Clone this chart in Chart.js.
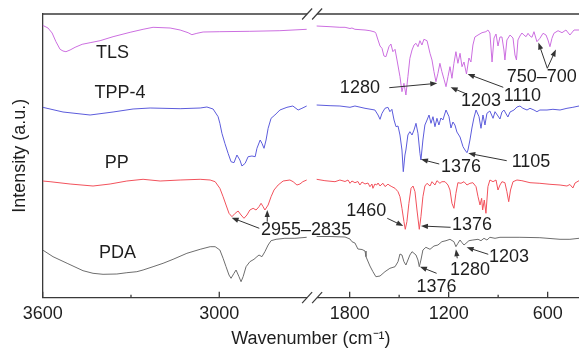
<!DOCTYPE html>
<html>
<head>
<meta charset="utf-8">
<script src="https://cdn.jsdelivr.net/npm/chart.js@4.4.1/dist/chart.umd.min.js"></script>
<style>
  body { margin: 0; background: #fff; }
  #wrap { width: 579px; height: 350px; position: relative; }
</style>
</head>
<body>
<div id="wrap"><canvas id="ftir"></canvas></div>
<script>
// FTIR spectra, [wavenumber (cm-1), intensity (a.u., stacked offsets)]
const tls = [
  [3600,274.7],[3582,272],[3568,267],[3555,258.3],[3541,250.7],[3531,249],[3521,248.3],[3507,250],[3490,252.7],[3466,255.7],
  [3439,257.3],[3405,259.3],[3361,263.3],[3303,267.7],[3259,270.7],[3225,272.7],[3167,272],[3133,270],[3106,267.3],[3093,265.3],
  [3076,266.7],[3055,268],[2998,268.3],[2896,268.7],[2794,269.3],[2703,270.7],
  [2000,274],[1919,273.3],[1859,272.7],[1828,272.7],[1798,271.5],[1786,272],[1768,270.7],[1707,270],[1677,269.3],[1647,268],
  [1641,266.7],[1628,260],[1616,254],[1604,251.7],[1592,244],[1580,243.3],[1562,253.3],[1550,256],[1538,248.3],[1525,250.7],
  [1513,240],[1495,223.3],[1483,208.3],[1471,216.7],[1459,205],[1447,223.3],[1435,241.7],[1422,250],[1410,255],[1398,256.7],
  [1386,253.3],[1374,259.3],[1362,255],[1350,260.7],[1331,259.3],[1313,246.7],[1301,240],[1289,228.3],[1277,218.3],[1265,226.7],
  [1253,236.7],[1241,228.3],[1228,220.7],[1216,213.3],[1204,223.3],[1192,233.3],[1180,221.7],[1168,236.7],[1156,248.3],[1144,236.7],
  [1131,246.7],[1119,233.3],[1107,238],[1092,226],[1077,242],[1065,238],[1053,255],[1041,263],[1022,265],[998,267.3],
  [974,268.3],[962,270],[950,267],[937,238],[925,262],[913,266],[901,254],[889,263],[877,263],[865,250],
  [859,240],[847,260],[828,265],[810,262],[798,245],[789,240],[780,260],[768,264],[756,267],[744,265],
  [731,263.3],[719,266.7],[707,264],[695,262.7],[683,268.3],[665,258.3],[647,261.7],[628,266.7],[610,265],[598,260],
  [586,253.3],[574,261.7],[562,266.7],[537,269.3],[513,267.3],[489,270],[465,265],[440,270],[410,270]
];
const tpp4 = [
  [3600,192.7],[3531,188],[3439,185],[3361,188],[3293,191],[3235,192],[3133,191.3],[3065,192],[3042,193],[3021,191],
  [3004,183.3],[2998,176.7],[2991,166.7],[2981,156.7],[2970,146.7],[2960,138.3],[2950,137.3],[2940,145],[2930,140],[2923,134],
  [2912,136.7],[2902,143.3],[2889,144],[2878,143.3],[2872,151.7],[2861,160],[2855,156.7],[2848,151.7],[2841,160],[2834,171.7],
  [2824,181.7],[2811,185],[2794,190],[2770,192.7],[2750,194],[2732,190],[2719,191.7],[2703,194],
  [2000,195],[1919,194.3],[1859,194],[1798,192.7],[1768,194],[1707,191.7],[1647,190],[1628,185],[1616,180.7],[1604,186.7],
  [1586,191.7],[1568,192.7],[1556,188.3],[1544,190.7],[1531,180],[1519,173.3],[1507,174],[1495,165],[1483,150],[1475,128.3],
  [1465,145],[1459,150],[1447,165],[1435,168.3],[1422,165],[1410,170],[1398,176.7],[1386,166.7],[1374,146.7],[1368,140],
  [1356,160],[1344,175],[1331,180],[1319,185],[1307,176.7],[1295,183.3],[1283,173.3],[1271,181.7],[1259,175],[1247,182],
  [1235,180],[1216,190],[1198,183.3],[1186,172],[1174,178],[1162,175],[1150,168],[1131,163],[1113,153.3],[1101,150],
  [1089,147.3],[1083,150],[1071,160],[1059,172],[1047,182],[1034,190],[1016,183.3],[1004,171.7],[992,185],[980,175],
  [968,186.7],[950,189],[931,181.7],[919,188.3],[901,184],[889,181],[877,188],[865,190],[841,183],[828,188],
  [804,190],[786,193],[768,194],[750,191.7],[725,190],[707,191.7],[683,190],[665,188.3],[647,190],[604,190],
  [568,190.7],[525,190],[483,191.7],[447,192.7],[410,194]
];
const pp = [
  [3600,119],[3575,118.3],[3507,116],[3429,114],[3371,116],[3314,119],[3259,120.7],[3201,119],[3133,120],[3065,120.7],
  [3031,120],[3014,118.3],[2998,111.7],[2987,103.3],[2977,95],[2967,86.7],[2957,83.3],[2946,86.7],[2936,89],[2926,85],
  [2916,81.7],[2906,85],[2896,90],[2885,91.7],[2875,90],[2865,93.3],[2858,96.7],[2851,93.3],[2845,90],[2834,95],
  [2824,103.3],[2814,110],[2800,115],[2783,119],[2760,120],[2749,118.3],[2736,115],[2726,116],[2716,118.3],[2703,120],
  [2000,120.7],[1950,119.3],[1889,118.3],[1859,120],[1828,118.5],[1810,120],[1798,116.7],[1786,119],[1768,117.3],[1750,118.5],
  [1738,115],[1725,118],[1707,116],[1689,117],[1677,113.3],[1665,116],[1659,111.7],[1647,116],[1636,115],[1628,117],
  [1616,114],[1604,116],[1598,116.7],[1586,113.5],[1580,114],[1568,116],[1562,115],[1544,113.3],[1525,111.7],[1507,108.3],
  [1495,103.3],[1483,91.7],[1471,78.3],[1463,70.7],[1453,78.3],[1441,96.7],[1428,111.7],[1416,114],[1404,108.3],[1392,90],
  [1378,70.7],[1368,83.3],[1356,103.3],[1344,114],[1331,116.7],[1313,114],[1301,118.3],[1283,115],[1271,119.3],[1253,116.7],
  [1241,118.3],[1222,118.3],[1204,115],[1192,110],[1180,96.7],[1168,91.7],[1156,106.7],[1144,117.3],[1125,116.7],[1107,118.3],
  [1089,115],[1071,116.7],[1053,117.3],[1034,113.3],[1022,103.3],[1010,95],[1000,101.7],[994,90],[984,100],[974,86.7],
  [962,113.3],[950,120],[931,118.3],[913,120],[901,110],[889,115],[877,118.3],[859,117.3],[847,108.3],[836,98.3],
  [825,110],[810,118.3],[786,120],[756,119.3],[707,117.3],[647,116.7],[586,115.7],[525,115],[483,114],[465,115.5],
  [447,112],[434,117],[410,119.3]
];
const pda = [
  [3600,50],[3565,43.3],[3517,36.7],[3463,29.3],[3429,26.7],[3395,25.7],[3348,26],[3314,27.3],[3280,28.3],[3259,30],
  [3225,33.3],[3191,36.7],[3157,40.7],[3110,46.7],[3065,50.7],[3031,53.3],[3014,53.3],[2998,50],[2987,41.7],[2977,33.3],
  [2967,25],[2960,21.7],[2950,26.7],[2943,30],[2933,23.3],[2926,18.3],[2919,23.3],[2909,33.3],[2896,38.3],[2882,40.7],
  [2872,43.3],[2865,45],[2855,43.3],[2845,48.3],[2834,55],[2824,59.3],[2807,60.7],[2777,61.7],[2743,61.7],[2703,62.7],
  [2000,63.5],[1919,63.5],[1828,63],[1798,61],[1786,58.3],[1768,57],[1750,51],[1725,50.5],[1707,49],[1701,43.3],
  [1677,34],[1659,28.3],[1641,23.3],[1616,24],[1586,28.3],[1556,31.7],[1525,33.3],[1507,38.3],[1495,46],[1483,45],
  [1471,38.3],[1459,35],[1447,40],[1435,45],[1422,48.3],[1410,46.7],[1398,45],[1386,40],[1378,33.3],[1368,40],
  [1356,50],[1338,52.7],[1313,50.7],[1289,54],[1265,55],[1241,58.3],[1216,59.3],[1192,60.7],[1168,58.3],[1156,53.3],
  [1144,56.7],[1131,60],[1119,57.3],[1107,55],[1095,56.7],[1077,59.3],[1053,60],[1022,60.7],[1004,59.3],[986,61.7],
  [968,60],[950,62.7],[919,61.7],[889,62.7],[768,62.7],[647,62.3],[525,60.7],[465,60.7],[410,61.7]
];

const seriesNames = ['TLS', 'TPP-4', 'PP', 'PDA'];
const seriesData = [tls, tpp4, pp, pda];
const seriesColors = ['#cc6fe0', '#5c5cdc', '#f2525c', '#6e6e6e'];
// where each series name is written [wavenumber, intensity]
const nameSpots = [[3363,246.7],[3337,207.3],[3348,136.7],[3346,46.7]];

const tickLabels = [3600, 3000, 1800, 1200, 600];
const minorTicks = [3300, 1500, 900];

// peak labels: text, text spot, arrow tail(s) and tip(s), all as [wavenumber, intensity]
const peakNotes = [
  { text: '1280', at: [1738,211.7], arrows: [[[1560,212.3],[1269,216.7]]] },
  { text: '1203', at: [1004,199], arrows: [[[1091,206],[1188,212.7]]] },
  { text: '1110', at: [753,204.3], arrows: [[[869,212.7],[1085,226]]] },
  { text: '750\u2013700', at: [636,223.3], arrows: [[[602,231.7],[656,257.5]], [[602,231.7],[550,250.5]]] },
  { text: '1376', at: [1125,132.7], arrows: [[[1257,136],[1368,140.7]]] },
  { text: '1105', at: [701,138.3], arrows: [[[848,139.3],[1081,146.7]]] },
  { text: '1460', at: [1699,89.3], arrows: [[[1572,81.7],[1475,74]]] },
  { text: '1376', at: [1059,75], arrows: [[[1188,72.7],[1368,74]]] },
  { text: '2955\u20132835', at: [2705,70], arrows: [[[2864,71.7],[2958,82.3]], [[2837,78.3],[2837,90]]] },
  { text: '1376', at: [1273,13.3], arrows: [[[1273,26.7],[1374,33.3]]] },
  { text: '1280', at: [1071,30], arrows: [[[1148,41.7],[1156,50.7]]] },
  { text: '1203', at: [834,43.3], arrows: [[[960,45.7],[1091,52.7]]] }
];

// broken wavenumber axis: 3600-2700 on the left, 2000-410 on the right
const leftStart = 3600, leftEnd = 2700, rightStart = 2000, rightEnd = 410;
const leftK = 0.2943, rightK = 0.165, gapW = 9.1;
function u(w) {
  if (w >= leftEnd) return (leftStart - w) * leftK;
  return (leftStart - leftEnd) * leftK + gapW + (rightStart - w) * rightK;
}
const breakU = (leftStart - leftEnd) * leftK + gapW / 2;

function toPoints(arr) {
  const pts = [];
  for (let i = 0; i < arr.length; i++) {
    if (i > 0 && arr[i - 1][0] >= leftEnd && arr[i][0] < leftEnd) pts.push({ x: breakU, y: null });
    pts.push({ x: u(arr[i][0]), y: arr[i][1] });
  }
  return pts;
}

const FONT = '"Liberation Sans", Arial, sans-serif';
const INK = '#1e1e1e';
const AXIS = '#3a3a3a';

function arrow(ctx, x1, y1, x2, y2) {
  const a = Math.atan2(y2 - y1, x2 - x1);
  const L = 7, W = 2.6;
  ctx.beginPath();
  ctx.moveTo(x1, y1);
  ctx.lineTo(x2 - L * 0.8 * Math.cos(a), y2 - L * 0.8 * Math.sin(a));
  ctx.stroke();
  ctx.beginPath();
  ctx.moveTo(x2, y2);
  ctx.lineTo(x2 - L * Math.cos(a) + W * Math.sin(a), y2 - L * Math.sin(a) - W * Math.cos(a));
  ctx.lineTo(x2 - L * Math.cos(a) - W * Math.sin(a), y2 - L * Math.sin(a) + W * Math.cos(a));
  ctx.closePath();
  ctx.fill();
}

const decor = {
  id: 'decor',
  afterDraw(chart) {
    const ctx = chart.ctx, xs = chart.scales.x, ys = chart.scales.y, area = chart.chartArea;
    ctx.save();
    // top frame line
    ctx.strokeStyle = AXIS;
    ctx.lineWidth = 1.3;
    ctx.beginPath();
    ctx.moveTo(area.left, area.top);
    ctx.lineTo(area.right, area.top);
    ctx.stroke();
    // inward ticks
    tickLabels.concat(minorTicks).forEach(w => {
      const px = xs.getPixelForValue(u(w));
      const len = tickLabels.includes(w) ? 6 : 3;
      ctx.beginPath();
      ctx.moveTo(px, area.bottom);
      ctx.lineTo(px, area.bottom - len);
      ctx.stroke();
    });
    // axis break marks
    const bx = xs.getPixelForValue(breakU);
    [area.top, area.bottom].forEach(yy => {
      ctx.fillStyle = '#fff';
      ctx.fillRect(bx - 5, yy - 2, 10, 4);
      ctx.strokeStyle = AXIS;
      ctx.lineWidth = 1.2;
      [-5, 5].forEach(d => {
        ctx.beginPath();
        ctx.moveTo(bx + d - 5, yy + 5.5);
        ctx.lineTo(bx + d + 5, yy - 5.5);
        ctx.stroke();
      });
    });
    // series names
    ctx.fillStyle = INK;
    ctx.font = '18px ' + FONT;
    ctx.textAlign = 'center';
    ctx.textBaseline = 'middle';
    seriesNames.forEach((n, i) => {
      ctx.fillText(n, xs.getPixelForValue(u(nameSpots[i][0])), ys.getPixelForValue(nameSpots[i][1]));
    });
    // peak annotations
    ctx.strokeStyle = '#333';
    ctx.fillStyle = '#333';
    ctx.lineWidth = 1;
    peakNotes.forEach(p => {
      p.arrows.forEach(a => {
        arrow(ctx,
          xs.getPixelForValue(u(a[0][0])), ys.getPixelForValue(a[0][1]),
          xs.getPixelForValue(u(a[1][0])), ys.getPixelForValue(a[1][1]));
      });
    });
    ctx.fillStyle = INK;
    peakNotes.forEach(p => {
      ctx.fillText(p.text, xs.getPixelForValue(u(p.at[0])), ys.getPixelForValue(p.at[1]));
    });
    ctx.restore();
  }
};

new Chart(document.getElementById('ftir'), {
  type: 'line',
  data: {
    datasets: seriesData.map((d, i) => ({
      label: seriesNames[i],
      data: toPoints(d),
      borderColor: seriesColors[i],
      borderWidth: 1,
      pointRadius: 0,
      tension: 0,
      spanGaps: false
    }))
  },
  options: {
    responsive: true,
    maintainAspectRatio: false,
    animation: false,
    layout: { padding: { top: 14, right: 0, bottom: 0, left: 0 } },
    plugins: { legend: { display: false }, tooltip: { enabled: false } },
    scales: {
      x: {
        type: 'linear',
        min: 0,
        max: u(rightEnd),
        afterFit: s => { s.height = 52.3; },
        afterBuildTicks: s => { s.ticks = tickLabels.map(w => ({ value: u(w) })); },
        grid: { display: false, drawTicks: false },
        border: { display: true, color: AXIS, width: 1.3 },
        ticks: {
          autoSkip: false,
          maxRotation: 0,
          padding: 6,
          color: INK,
          font: { size: 18, family: FONT },
          callback: (v, i) => tickLabels[i]
        },
        title: {
          display: true,
          text: 'Wavenumber (cm\u207B\u00B9)',
          color: INK,
          font: { size: 18, family: FONT },
          padding: { top: 0, bottom: 0 }
        }
      },
      y: {
        min: 2.3,
        max: 286,
        afterFit: s => { s.width = 42.7; },
        grid: { display: false, drawTicks: false },
        border: { display: true, color: AXIS, width: 1.3 },
        ticks: { display: false },
        title: {
          display: true,
          text: 'Intensity (a.u.)',
          color: INK,
          font: { size: 18, family: FONT },
          padding: { top: 9, bottom: 0 }
        }
      }
    }
  },
  plugins: [decor]
});
</script>
</body>
</html>
